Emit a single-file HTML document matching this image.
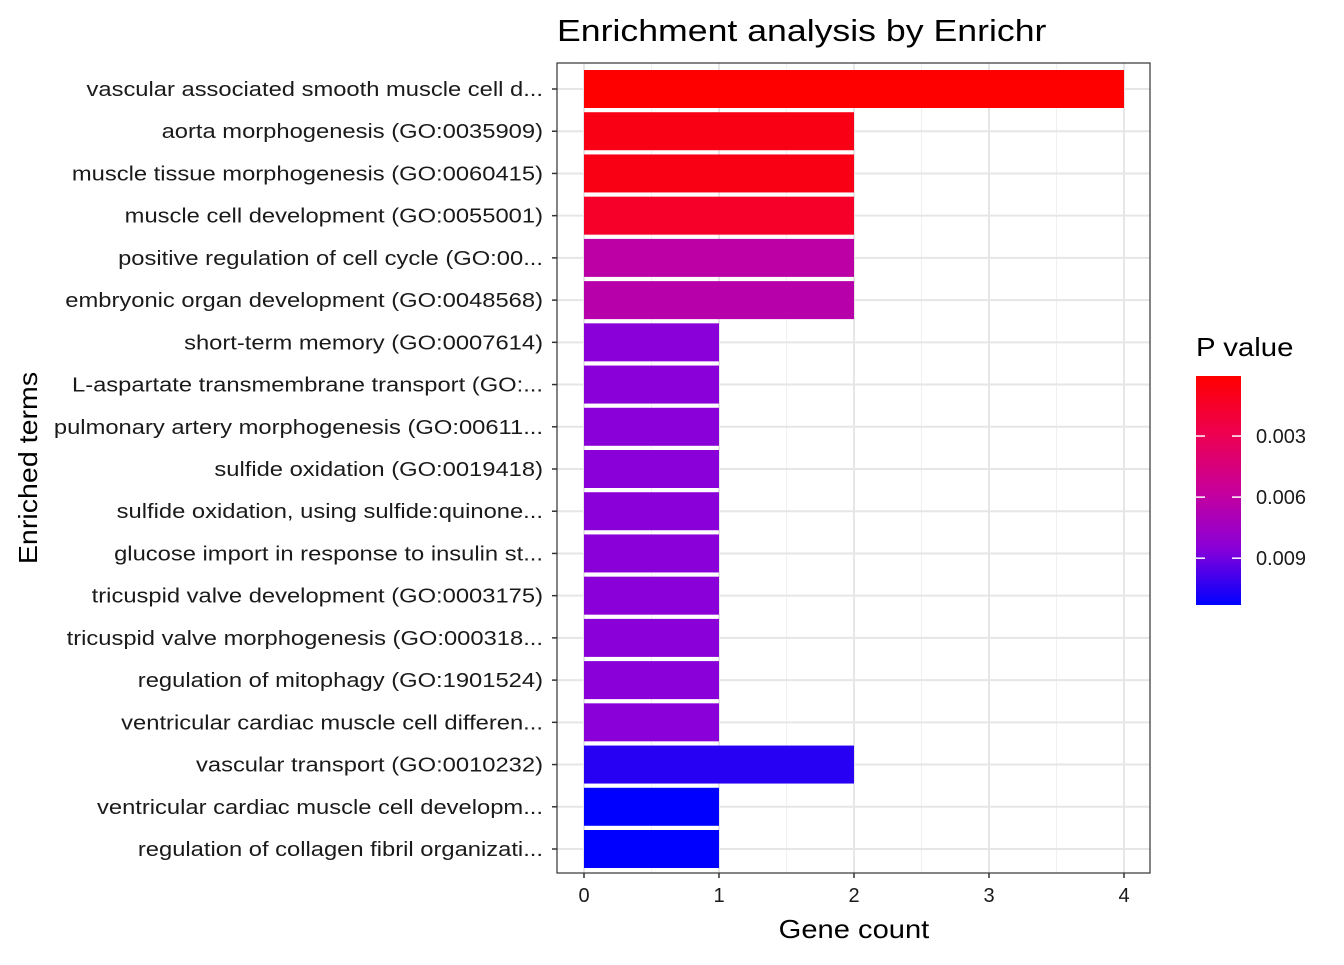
<!DOCTYPE html>
<html><head><meta charset="utf-8"><style>
body{margin:0;background:#fff;font-family:"Liberation Sans",Arial,sans-serif;}
</style></head><body>
<svg id="chart" width="1344" height="960" xmlns="http://www.w3.org/2000/svg">
<defs>
<linearGradient id="lg" x1="0" y1="0" x2="0" y2="1">
<stop offset="0" stop-color="#FF0000"/><stop offset="0.25" stop-color="#EE0050"/>
<stop offset="0.5" stop-color="#C8009A"/><stop offset="0.75" stop-color="#8A00D8"/>
<stop offset="1" stop-color="#0000FF"/></linearGradient>
</defs>
<text class="wide" data-k="1.15" x="557" y="41" font-size="31" fill="#000">Enrichment analysis by Enrichr</text>
<g id="panel"></g>
<text class="wide" data-k="1.12" x="854" y="938" font-size="26" text-anchor="middle">Gene count</text>
<text class="wide" data-k="1.1" transform="translate(37,468) rotate(-90)" font-size="26" text-anchor="middle">Enriched terms</text>
<g>
<text class="wide" data-k="1.13" x="1196" y="356" font-size="26">P value</text>
<rect x="1196" y="376" width="45" height="229" fill="url(#lg)"/>
<g id="legticks"></g>
</g>
</svg>
<script>
const terms=["vascular associated smooth muscle cell d...","aorta morphogenesis (GO:0035909)","muscle tissue morphogenesis (GO:0060415)","muscle cell development (GO:0055001)","positive regulation of cell cycle (GO:00...","embryonic organ development (GO:0048568)","short-term memory (GO:0007614)","L-aspartate transmembrane transport (GO:...","pulmonary artery morphogenesis (GO:00611...","sulfide oxidation (GO:0019418)","sulfide oxidation, using sulfide:quinone...","glucose import in response to insulin st...","tricuspid valve development (GO:0003175)","tricuspid valve morphogenesis (GO:000318...","regulation of mitophagy (GO:1901524)","ventricular cardiac muscle cell differen...","vascular transport (GO:0010232)","ventricular cardiac muscle cell developm...","regulation of collagen fibril organizati..."];
const counts=[4,2,2,2,2,2,1,1,1,1,1,1,1,1,1,1,2,1,1];
const pvals=[0.00005,0.0008,0.0008,0.0015,0.0062,0.0064,0.0085,0.0085,0.0085,0.0085,0.0085,0.0085,0.0085,0.0085,0.0085,0.0085,0.0105,0.0113,0.0113];
const xTicks=[0,1,2,3,4];
const legTicks=[0.003,0.006,0.009];
const NS="http://www.w3.org/2000/svg";
const P={l:557,r:1150,t:63,b:873};
const x=v=>584+v*135;
const yC=i=>89+i*(760/18);
const pMin=0.00005,pMax=0.0113;
const legY=p=>376+(p-pMin)/(pMax-pMin)*229;
const stops=[[0,[255,0,0]],[0.25,[238,0,80]],[0.5,[200,0,154]],[0.75,[138,0,216]],[1,[0,0,255]]];
function col(p){let t=Math.max(0,Math.min(1,(p-pMin)/(pMax-pMin)));for(let i=1;i<stops.length;i++){if(t<=stops[i][0]){const a=stops[i-1],b=stops[i],f=(t-a[0])/(b[0]-a[0]);return "rgb("+a[1].map((c,k)=>Math.round(c+(b[1][k]-c)*f)).join(",")+")";}}return "rgb(0,0,255)";}
function mk(tag,at,par){const e=document.createElementNS(NS,tag);for(const k in at)e.setAttribute(k,at[k]);par.appendChild(e);return e;}
const g=document.getElementById("panel");
let bg=mk("rect",{x:P.l,y:P.t,width:P.r-P.l,height:P.b-P.t,fill:"#fff"},g);


for(let i=0;i<xTicks.length-1;i++){let l=mk("line",{x1:x(xTicks[i]+0.5),x2:x(xTicks[i]+0.5),y1:P.t,y2:P.b,stroke:"#f0f0f0","stroke-width":1},g);

}
xTicks.forEach(v=>{let l=mk("line",{x1:x(v),x2:x(v),y1:P.t,y2:P.b,stroke:"#e6e6e6","stroke-width":2},g);

});
terms.forEach((t,i)=>{let l=mk("line",{x1:P.l,x2:P.r,y1:yC(i),y2:yC(i),stroke:"#e6e6e6","stroke-width":2},g);

});
terms.forEach((t,i)=>{
let r=mk("rect",{x:x(0),y:yC(i)-19,width:x(counts[i])-x(0),height:38,fill:col(pvals[i])},g);


let tk=mk("line",{x1:P.l-5,x2:P.l,y1:yC(i),y2:yC(i),stroke:"#333","stroke-width":1.5},g);


let tx=mk("text",{x:543,y:yC(i)+7,"font-size":"20","text-anchor":"end",fill:"#1a1a1a","class":"wide","data-k":"1.187"},g);tx.textContent=t;


});
let bd=mk("rect",{x:P.l,y:P.t,width:P.r-P.l,height:P.b-P.t,fill:"none",stroke:"#333","stroke-width":1.2},g);


xTicks.forEach(v=>{let tk=mk("line",{x1:x(v),x2:x(v),y1:P.b,y2:P.b+5,stroke:"#333","stroke-width":1.5},g);


let tx=mk("text",{x:x(v),y:P.b+29,"font-size":"20","text-anchor":"middle",fill:"#1a1a1a"},g);tx.textContent=v;

});
const lg=document.getElementById("legticks");
legTicks.forEach(v=>{const yy=legY(v);
let a=mk("line",{x1:1196,x2:1205,y1:yy,y2:yy,stroke:"#fff","stroke-width":1.5},lg);


let b=mk("line",{x1:1232,x2:1241,y1:yy,y2:yy,stroke:"#fff","stroke-width":1.5},lg);


let tx=mk("text",{x:1256,y:yy+7,"font-size":"20",fill:"#1a1a1a"},lg);tx.textContent=v.toFixed(3);

});
document.querySelectorAll("text.wide").forEach(t=>{const k=parseFloat(t.getAttribute("data-k"));const L=t.getComputedTextLength();t.setAttribute("textLength",(L*k).toFixed(1));t.setAttribute("lengthAdjust","spacingAndGlyphs");});
</script>
</body></html>
